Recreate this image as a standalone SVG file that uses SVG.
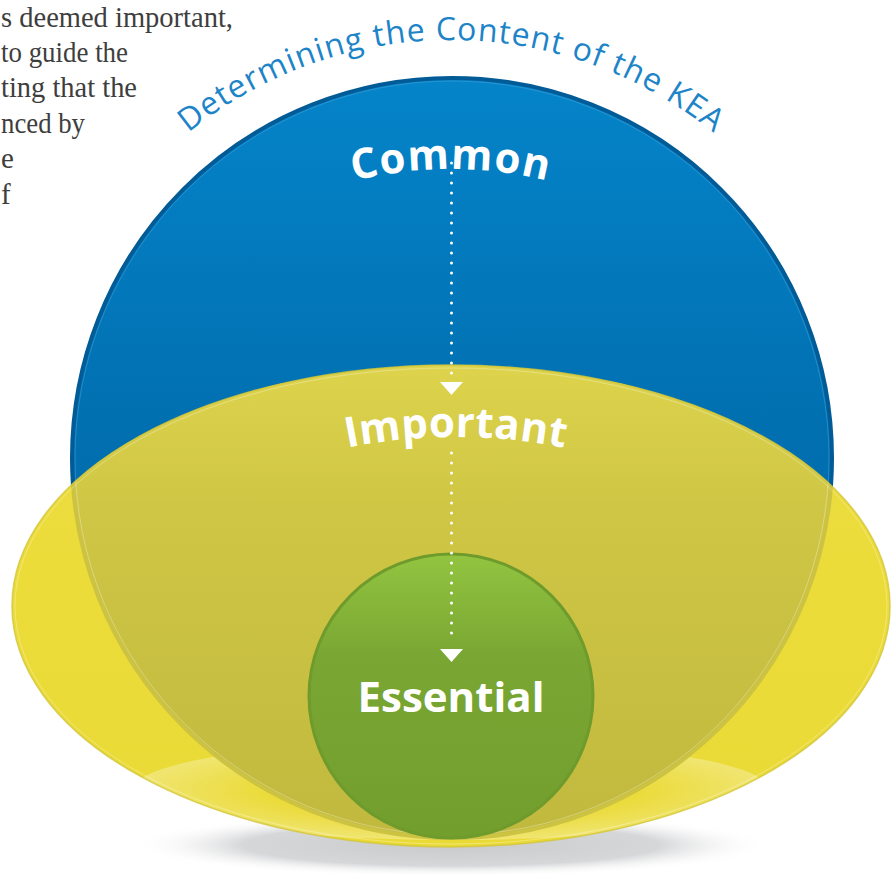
<svg xmlns="http://www.w3.org/2000/svg" width="891" height="874" viewBox="0 0 891 874">
<style>
.para{font-family:"Liberation Serif","Times New Roman",serif;font-size:29px;fill:#3e3e3e}
.title{font-family:"Open Sans","Noto Sans",sans-serif;font-weight:400;font-size:32px;fill:#1d84c8}
.lbl{font-family:"Open Sans","Noto Sans",sans-serif;font-weight:700;font-size:42px;fill:#ffffff}
.dots{stroke:#ffffff;stroke-width:3;stroke-linecap:round;stroke-dasharray:0 10;fill:none}
.head{fill:#ffffff}
</style>
<defs>
<linearGradient id="gBlue" gradientUnits="userSpaceOnUse" x1="0" y1="78" x2="0" y2="838">
<stop offset="0" stop-color="#0584c9"/>
<stop offset="0.45" stop-color="#0170b1"/>
<stop offset="1" stop-color="#005e9c"/>
</linearGradient>
<linearGradient id="gOlive" gradientUnits="userSpaceOnUse" x1="0" y1="365" x2="0" y2="840">
<stop offset="0" stop-color="#ddd34c"/>
<stop offset="0.3" stop-color="#cfc645"/>
<stop offset="1" stop-color="#c1b93e"/>
</linearGradient>
<linearGradient id="gYellow" gradientUnits="userSpaceOnUse" x1="0" y1="365" x2="0" y2="847">
<stop offset="0" stop-color="#eadb45"/>
<stop offset="0.4" stop-color="#ecdc3a"/>
<stop offset="1" stop-color="#eada36"/>
</linearGradient>
<linearGradient id="gGreen" gradientUnits="userSpaceOnUse" x1="0" y1="555" x2="0" y2="838">
<stop offset="0" stop-color="#92c440"/>
<stop offset="0.35" stop-color="#7aa733"/>
<stop offset="1" stop-color="#729e2e"/>
</linearGradient>
<radialGradient id="gShadow" cx="0.5" cy="0.5" r="0.5">
<stop offset="0" stop-color="#c9cacc"/>
<stop offset="0.65" stop-color="#d6d7d9"/>
<stop offset="1" stop-color="#ffffff" stop-opacity="0"/>
</radialGradient>
<radialGradient id="gGloss" cx="0.5" cy="0.5" r="0.5">
<stop offset="0.55" stop-color="#ffffff" stop-opacity="0"/>
<stop offset="1" stop-color="#ffffff" stop-opacity="0.3"/>
</radialGradient>
<clipPath id="cYellow"><ellipse cx="451" cy="606" rx="439" ry="241"/></clipPath>
<path id="arcTitle" d="M 33,458 A 418,418 0 0 1 869,458"/>
<path id="arcCommon" d="M 51,569 A 400,400 0 0 1 851,569"/>
<path id="arcImportant" d="M -94,987 A 550,550 0 0 1 1006,987"/>
</defs>
<rect width="891" height="874" fill="#ffffff"/>

<g id="paragraph">
<text class="para" x="1" y="27" textLength="232" lengthAdjust="spacingAndGlyphs">s deemed important,</text>
<text class="para" x="1" y="62" textLength="127" lengthAdjust="spacingAndGlyphs">to guide the</text>
<text class="para" x="1" y="97" textLength="136" lengthAdjust="spacingAndGlyphs">ting that the</text>
<text class="para" x="1" y="133" textLength="84" lengthAdjust="spacingAndGlyphs">nced by</text>
<text class="para" x="1" y="168">e</text>
<text class="para" x="1" y="204">f</text>
</g>

<g id="shadow">
<ellipse cx="451" cy="845" rx="320" ry="32" fill="url(#gShadow)"/>
</g>

<g id="node-common">
<circle cx="452" cy="458" r="380" fill="url(#gBlue)" stroke="#005b97" stroke-width="4"/>
<circle cx="452" cy="458" r="377" fill="none" stroke="#4aa3dc" stroke-opacity="0.5" stroke-width="1"/>
</g>

<g id="node-important">
<ellipse cx="451" cy="606" rx="439" ry="241" fill="url(#gYellow)"/>
<ellipse cx="451" cy="790" rx="318" ry="50" fill="url(#gGloss)" clip-path="url(#cYellow)"/>
<g clip-path="url(#cYellow)">
<circle cx="452" cy="458" r="380" fill="url(#gOlive)" stroke="#ccc343" stroke-width="4"/>
<circle cx="452" cy="458" r="377" fill="none" stroke="#ffffff" stroke-opacity="0.3" stroke-width="1"/>
</g>
<ellipse cx="451" cy="606" rx="439" ry="241" fill="none" stroke="#d2c63a" stroke-width="1.5" stroke-opacity="0.8"/>
<ellipse cx="451" cy="606" rx="436" ry="238" fill="none" stroke="#ffffff" stroke-opacity="0.3" stroke-width="1"/>
</g>

<g id="node-essential">
<circle cx="451" cy="696" r="142" fill="url(#gGreen)" stroke="#6e9b2c" stroke-width="3"/>
</g>

<g id="connectors">
<line class="dots" x1="451.5" y1="163" x2="451.5" y2="374"/>
<polygon class="head" points="440,382 463,382 451.5,395"/>
<line class="dots" x1="451.5" y1="453" x2="451.5" y2="643"/>
<polygon class="head" points="440,649 463,649 451.5,662"/>
</g>

<g id="labels">
<text class="title"><textPath href="#arcTitle" startOffset="50%" text-anchor="middle" textLength="568" lengthAdjust="spacing">Determining the Content of the KEA</textPath></text>
<text class="lbl" letter-spacing="1.3"><textPath href="#arcCommon" startOffset="50%" text-anchor="middle">Common</textPath></text>
<text class="lbl" letter-spacing="0.3"><textPath href="#arcImportant" startOffset="50%" text-anchor="middle">Important</textPath></text>
<text class="lbl" x="451" y="712" text-anchor="middle">Essential</text>
</g>
</svg>
